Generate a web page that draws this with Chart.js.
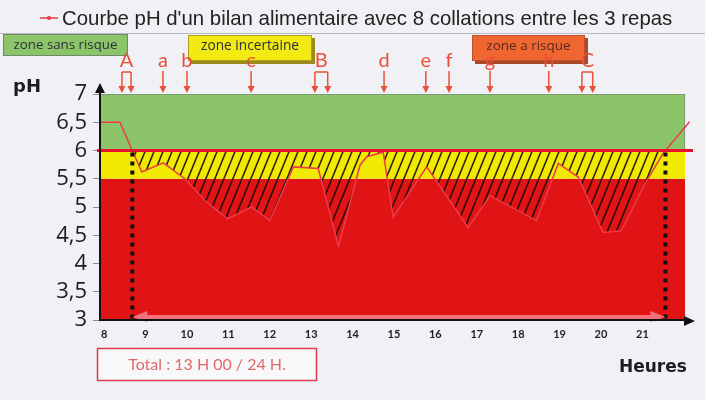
<!DOCTYPE html>
<html>
<head>
<meta charset="utf-8">
<script src="https://cdn.jsdelivr.net/npm/chart.js@4.4.0/dist/chart.umd.min.js"></script>
<style>
html, body { margin: 0; padding: 0; background: #f1f1f5; }
canvas { display: block; }
</style>
</head>
<body>
<canvas id="myChart" width="705" height="400"></canvas>
<script>
// courbe pH (heure, pH)
var hours = [7.9, 8.38, 8.91, 9.43, 9.95, 10.43, 10.98, 11.56, 12.0, 12.57, 13.17, 13.66, 14.18, 14.34, 14.74, 14.98, 15.79, 16.79, 17.32, 18.44, 18.97, 19.45, 20.05, 20.49, 21.06, 21.5, 22.14];
var phValues = [6.5, 6.5, 5.62, 5.78, 5.5, 5.12, 4.79, 5.0, 4.76, 5.71, 5.68, 4.3, 5.74, 5.89, 5.97, 4.82, 5.71, 4.64, 5.2, 4.76, 5.77, 5.53, 4.55, 4.58, 5.41, 5.95, 6.51];
var hourTicks = [8, 9, 10, 11, 12, 13, 14, 15, 16, 17, 18, 19, 20, 21];
var phTicks = [3, 3.5, 4, 4.5, 5, 5.5, 6, 6.5, 7];
var seuil = 6;
var zoneBornes = [3, 5.5, 6, 7]; // rouge | jaune | vert
var collations = [9.42, 10.0, 11.55, 14.76, 15.77, 16.33, 17.32, 18.74];
var collationLabels = ['a', 'b', 'c', 'd', 'e', 'f', 'g', 'h'];
var repasDebut = [8.43, 13.09, 19.54];
var repasFin = [8.65, 13.40, 19.80];
var repasLabels = ['A', 'B', 'C'];
var legendText = "Courbe pH d'un bilan alimentaire avec 8 collations entre les 3 repas";
var totalText = 'Total : 13 H 00 / 24 H.';

function hachures() {
    var c = document.createElement('canvas');
    c.width = 9; c.height = 22;
    var g = c.getContext('2d');
    g.strokeStyle = 'rgba(20,10,10,0.9)';
    g.lineWidth = 1.6;
    [-9, 0, 9].forEach(function (x0) {
        g.beginPath(); g.moveTo(x0, 22); g.lineTo(x0 + 9, 0); g.stroke();
    });
    return g.createPattern(c, 'repeat');
}

function croisements() {
    var res = [];
    for (var i = 1; i < hours.length; i++) {
        var a = phValues[i - 1] - seuil, b = phValues[i] - seuil;
        if ((a >= 0) !== (b >= 0)) res.push(hours[i - 1] + (hours[i] - hours[i - 1]) * a / (a - b));
    }
    return res;
}

function fitText(ctx, txt, family, weight, width) {
    ctx.font = weight + ' 20px ' + family;
    var size = 20 * width / ctx.measureText(txt).width;
    ctx.font = weight + ' ' + size.toFixed(1) + 'px ' + family;
}

function fleche(ctx, x, y1, y2) {
    ctx.beginPath(); ctx.moveTo(x, y1); ctx.lineTo(x, y2 - 6); ctx.stroke();
    ctx.beginPath(); ctx.moveTo(x - 3.5, y2 - 7); ctx.lineTo(x + 3.5, y2 - 7); ctx.lineTo(x, y2); ctx.closePath(); ctx.fill();
}

function boite(ctx, x, y, w, h, fill, stroke, txt, color, tw) {
    ctx.fillStyle = fill; ctx.fillRect(x, y, w, h);
    ctx.strokeStyle = stroke; ctx.lineWidth = 1; ctx.strokeRect(x + 0.5, y + 0.5, w - 1, h - 1);
    fitText(ctx, txt, '"Open Sans"', 'normal', tw);
    ctx.fillStyle = color; ctx.textAlign = 'center'; ctx.textBaseline = 'middle';
    ctx.fillText(txt, x + w / 2, y + 11);
}

var decor = {
    id: 'decor',
    beforeDraw: function (chart) {
        var ctx = chart.ctx;
        ctx.save();
        // legende
        ctx.strokeStyle = '#e23a44'; ctx.lineWidth = 1.5;
        ctx.beginPath(); ctx.moveTo(40, 18); ctx.lineTo(58, 18); ctx.stroke();
        ctx.fillStyle = '#e23a44'; ctx.beginPath(); ctx.arc(49, 18, 2, 0, 2 * Math.PI); ctx.fill();
        fitText(ctx, legendText, '"Liberation Sans"', 'normal', 610);
        ctx.fillStyle = '#222'; ctx.textAlign = 'left'; ctx.textBaseline = 'middle';
        ctx.fillText(legendText, 62, 19);
        ctx.strokeStyle = '#b8b8c0'; ctx.lineWidth = 1;
        ctx.beginPath(); ctx.moveTo(0, 33.5); ctx.lineTo(705, 33.5); ctx.stroke();
        // zones
        boite(ctx, 3, 34, 125, 22, '#8cc46a', '#6f8a66', 'zone sans risque', '#2c3038', 104);
        ctx.fillStyle = '#9a8a20'; ctx.fillRect(191, 38, 124, 26);
        boite(ctx, 188, 35, 124, 26, '#f2ea12', '#b0a020', 'zone incertaine', '#2c3038', 98);
        ctx.fillStyle = '#a84a2a'; ctx.fillRect(475, 38, 113, 26);
        boite(ctx, 472, 35, 113, 26, '#f06630', '#c05030', 'zone a risque', '#5a2a20', 84);
        // pH / Heures
        ctx.fillStyle = '#1c1c24'; ctx.textAlign = 'left'; ctx.textBaseline = 'alphabetic';
        ctx.font = 'bold 18px "DejaVu Sans"';
        ctx.fillText('pH', 13, 92);
        ctx.font = 'bold 17px "DejaVu Sans"';
        ctx.fillText('Heures', 619, 372);
        // total
        ctx.fillStyle = '#f8f8fa'; ctx.fillRect(97, 348, 220, 33);
        ctx.strokeStyle = '#e03a4c'; ctx.lineWidth = 1.5; ctx.strokeRect(97.5, 348.5, 219, 32);
        fitText(ctx, totalText, 'Lato', 'normal', 158);
        ctx.fillStyle = '#e06a6a'; ctx.textAlign = 'center'; ctx.textBaseline = 'middle';
        ctx.fillText(totalText, 207, 365);
        ctx.restore();
    },
    beforeDatasetsDraw: function (chart) {
        var ctx = chart.ctx, x = chart.scales.x, y = chart.scales.y;
        var left = chart.chartArea.left, right = x.getPixelForValue(22.03);
        var couleurs = ['#e01414', '#f0ea00', '#8cc46a'];
        ctx.save();
        for (var i = 0; i < 3; i++) {
            var top = y.getPixelForValue(zoneBornes[i + 1]), bot = y.getPixelForValue(zoneBornes[i]);
            ctx.fillStyle = couleurs[i];
            ctx.fillRect(left, top, right - left, bot - top);
        }
        ctx.strokeStyle = '#7d9a70'; ctx.lineWidth = 1;
        ctx.strokeRect(left, y.getPixelForValue(7) + 0.5, right - left - 0.5, y.getPixelForValue(6) - y.getPixelForValue(7));
        ctx.restore();
    },
    afterDatasetsDraw: function (chart) {
        var ctx = chart.ctx, x = chart.scales.x, y = chart.scales.y, area = chart.chartArea;
        ctx.save();
        // ligne pH 6
        var y6 = y.getPixelForValue(seuil);
        ctx.strokeStyle = '#e8102c'; ctx.lineWidth = 3;
        ctx.beginPath(); ctx.moveTo(area.left - 3, y6); ctx.lineTo(area.right + 3, y6); ctx.stroke();
        // pointilles + double fleche
        var cr = croisements(), xa = x.getPixelForValue(cr[0]), xb = x.getPixelForValue(cr[cr.length - 1]);
        ctx.strokeStyle = '#111'; ctx.lineWidth = 4; ctx.setLineDash([4, 5]);
        [xa, xb].forEach(function (px) {
            ctx.beginPath(); ctx.moveTo(px, y6 + 2); ctx.lineTo(px, area.bottom); ctx.stroke();
        });
        ctx.setLineDash([]);
        var yb = area.bottom - 3;
        ctx.strokeStyle = '#f4707a'; ctx.fillStyle = '#f4707a'; ctx.lineWidth = 4;
        ctx.beginPath(); ctx.moveTo(xa + 12, yb); ctx.lineTo(xb - 12, yb); ctx.stroke();
        ctx.beginPath(); ctx.moveTo(xa, yb); ctx.lineTo(xa + 15, yb - 6); ctx.lineTo(xa + 15, yb + 5); ctx.closePath(); ctx.fill();
        ctx.beginPath(); ctx.moveTo(xb, yb); ctx.lineTo(xb - 15, yb - 6); ctx.lineTo(xb - 15, yb + 5); ctx.closePath(); ctx.fill();
        // fleches des prises alimentaires
        ctx.strokeStyle = '#e8503c'; ctx.fillStyle = '#e8503c'; ctx.lineWidth = 1.5;
        ctx.font = '20px Lato'; ctx.textAlign = 'center'; ctx.textBaseline = 'alphabetic';
        collations.forEach(function (h, i) {
            var px = x.getPixelForValue(h);
            fleche(ctx, px, 71, 93);
            ctx.fillText(collationLabels[i], px, 67);
        });
        repasDebut.forEach(function (h, i) {
            var p1 = x.getPixelForValue(h), p2 = x.getPixelForValue(repasFin[i]);
            ctx.beginPath(); ctx.moveTo(p1, 72); ctx.lineTo(p2, 72); ctx.stroke();
            fleche(ctx, p1, 72, 93);
            fleche(ctx, p2, 72, 93);
            ctx.fillText(repasLabels[i], (p1 + p2) / 2, 67);
        });
        // fleches des axes
        ctx.strokeStyle = '#111'; ctx.fillStyle = '#111'; ctx.lineWidth = 2;
        ctx.beginPath(); ctx.moveTo(area.left, area.top); ctx.lineTo(area.left, 90); ctx.stroke();
        ctx.beginPath(); ctx.moveTo(area.left, 83); ctx.lineTo(area.left - 5, 93); ctx.lineTo(area.left + 5, 93); ctx.closePath(); ctx.fill();
        ctx.beginPath(); ctx.moveTo(area.right, area.bottom + 1); ctx.lineTo(686, area.bottom + 1); ctx.stroke();
        ctx.beginPath(); ctx.moveTo(695, area.bottom + 1); ctx.lineTo(684, area.bottom - 4); ctx.lineTo(684, area.bottom + 6); ctx.closePath(); ctx.fill();
        ctx.restore();
    }
};

var ctx = document.getElementById('myChart');
new Chart(ctx, {
    type: 'line',
    data: {
        datasets: [{
            label: legendText,
            data: hours.map(function (h, i) { return { x: h, y: phValues[i] }; }),
            borderColor: '#ec3a48',
            borderWidth: 1.5,
            pointRadius: 0,
            tension: 0,
            clip: false,
            fill: { target: { value: seuil }, above: 'rgba(0,0,0,0)', below: hachures() }
        }]
    },
    options: {
        responsive: false,
        animation: false,
        layout: { padding: { top: 94, right: 15, bottom: 50, left: 0 } },
        plugins: { legend: { display: false }, tooltip: { enabled: false } },
        scales: {
            x: {
                type: 'linear', min: 7.9, max: 22.15,
                afterBuildTicks: function (s) { s.ticks = hourTicks.map(function (v) { return { value: v }; }); },
                afterFit: function (s) { s.height = 30; },
                grid: { display: false, drawTicks: false },
                border: { display: true, color: '#111', width: 2, z: 1 },
                ticks: { autoSkip: false, maxRotation: 0, padding: 8, color: '#222', font: { family: 'Lato', size: 11, weight: 'bold' } }
            },
            y: {
                min: 3, max: 7,
                afterBuildTicks: function (s) { s.ticks = phTicks.map(function (v) { return { value: v }; }); },
                afterFit: function (s) { s.width = 100; },
                grid: { drawOnChartArea: false, drawTicks: true, tickLength: 7, color: '#8a8f9a' },
                border: { display: true, color: '#111', width: 2, z: 1 },
                ticks: {
                    autoSkip: false, padding: 6, color: '#1c1c28', font: { family: '"Open Sans"', size: 22 },
                    callback: function (v) { return String(v).replace('.', ','); }
                }
            }
        }
    },
    plugins: [decor]
});
</script>
</body>
</html>
